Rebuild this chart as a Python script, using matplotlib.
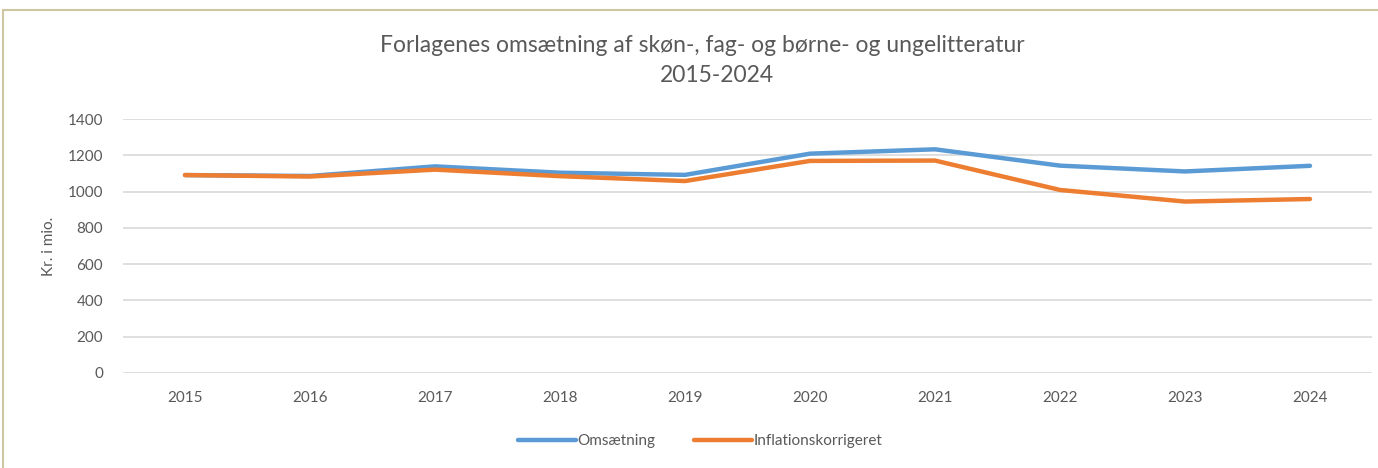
import numpy as np
import matplotlib.pyplot as plt
from matplotlib.patches import Rectangle

years = ['2015', '2016', '2017', '2018', '2019', '2020', '2021', '2022', '2023', '2024']
omsaetning = [1091, 1086, 1139, 1104, 1092, 1209, 1233, 1143, 1111, 1142]
inflation = [1091, 1083, 1121, 1085, 1058, 1169, 1171, 1009, 945, 959]

plt.rcParams['font.family'] = ['Lato', 'DejaVu Sans']
grey = '#595959'

fig = plt.figure(figsize=(13.78, 4.68), dpi=100)
ax = fig.add_axes([0.0889, 0.203, 0.9071, 0.5427])

x = np.arange(len(years))
ax.plot(x, omsaetning, color='#5B9BD5', lw=3.2, solid_capstyle='round', label='Omsætning')
ax.plot(x, inflation, color='#ED7D31', lw=3.2, solid_capstyle='round', label='Inflationskorrigeret')

ax.set_xlim(-0.5, len(years) - 0.5)
ax.set_ylim(0, 1400)
ax.set_yticks(range(0, 1401, 200))
ax.set_xticks(x)
ax.set_xticklabels(years)
ax.grid(axis='y', color='#D9D9D9', lw=1.2)
ax.set_axisbelow(True)
for s in ax.spines.values():
    s.set_visible(False)
ax.tick_params(length=0, colors=grey, labelsize=11, pad=13)
ax.tick_params(axis='y', pad=14)
ax.set_ylabel('Kr. i mio.', color=grey, fontsize=11, labelpad=8)

fig.text(0.51, 0.903, 'Forlagenes omsætning af skøn-, fag- og børne- og ungelitteratur',
         ha='center', va='center', fontsize=16.5, color=grey)
fig.text(0.52, 0.838, '2015-2024', ha='center', va='center', fontsize=16.5, color=grey)

ax.legend(loc='center', bbox_to_anchor=(0.508, 0.057), bbox_transform=fig.transFigure,
          ncol=2, frameon=False, fontsize=11, labelcolor=grey,
          handlelength=3.8, handletextpad=0.1, columnspacing=2.5)

fig.patches.append(Rectangle((3 / 1378, -0.1), 1.2, 1 - 10 / 468 + 0.1, transform=fig.transFigure,
                             fill=False, edgecolor='#CFC6A3', lw=1.5))

fig.savefig('out.png', dpi=100)
